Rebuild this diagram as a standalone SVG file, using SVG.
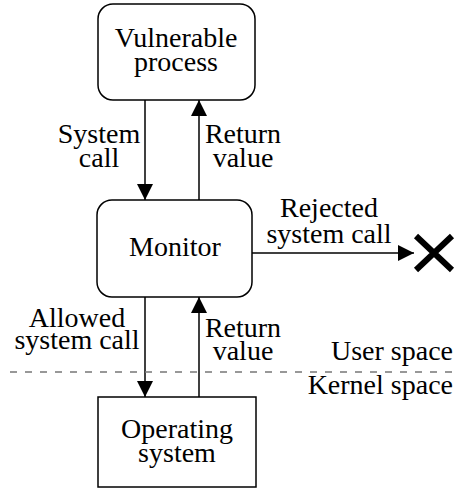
<svg xmlns="http://www.w3.org/2000/svg" width="457" height="488" viewBox="0 0 457 488">
<defs>
<marker id="ah" viewBox="0 0 16 16" markerWidth="16" markerHeight="16" refX="16" refY="8" orient="auto" markerUnits="userSpaceOnUse">
<path d="M0,0 L16,8 L0,16 Z" fill="#000"/>
</marker>
</defs>
<g id="connectors" stroke="#000" stroke-width="1.5" fill="none">
<line x1="145" y1="100" x2="145" y2="200" marker-end="url(#ah)"/>
<line x1="199" y1="200" x2="199" y2="100" marker-end="url(#ah)"/>
<line x1="145" y1="297" x2="145" y2="397" marker-end="url(#ah)"/>
<line x1="199" y1="397" x2="199" y2="297" marker-end="url(#ah)"/>
<line x1="252" y1="253" x2="414" y2="253" marker-end="url(#ah)"/>
</g>
<g id="labels">
<text x="99" y="143" text-anchor="middle" font-family="Times New Roman" font-size="28">System</text>
<text x="99" y="167" text-anchor="middle" font-family="Times New Roman" font-size="28">call</text>
<text x="243" y="143" text-anchor="middle" font-family="Times New Roman" font-size="28">Return</text>
<text x="243" y="167" text-anchor="middle" font-family="Times New Roman" font-size="28">value</text>
<text x="329" y="217" text-anchor="middle" font-family="Times New Roman" font-size="28">Rejected</text>
<text x="329" y="243" text-anchor="middle" font-family="Times New Roman" font-size="28">system call</text>
<text x="77" y="327" text-anchor="middle" font-family="Times New Roman" font-size="28">Allowed</text>
<text x="77" y="349" text-anchor="middle" font-family="Times New Roman" font-size="28">system call</text>
<text x="243" y="337" text-anchor="middle" font-family="Times New Roman" font-size="28">Return</text>
<text x="243" y="360" text-anchor="middle" font-family="Times New Roman" font-size="28">value</text>
</g>
<g id="boundary">
<line x1="10" y1="372" x2="457" y2="372" stroke="#777" stroke-width="1.5" stroke-dasharray="7,8"/>
<text x="453" y="360" text-anchor="end" font-family="Times New Roman" font-size="28">User space</text>
<text x="453" y="394" text-anchor="end" font-family="Times New Roman" font-size="28">Kernel space</text>
</g>
<g id="reject-x">
<path d="M416,236 L452,270 M452,236 L416,270" stroke="#000" stroke-width="6" fill="none"/>
</g>
<g id="vulnerable-process">
<rect x="98" y="4" width="157" height="96" rx="15" fill="#fff" stroke="#000" stroke-width="1.5"/>
<text x="176" y="47" text-anchor="middle" font-family="Times New Roman" font-size="28">Vulnerable</text>
<text x="176" y="71" text-anchor="middle" font-family="Times New Roman" font-size="28">process</text>
</g>
<g id="monitor">
<rect x="97" y="200" width="155" height="97" rx="15" fill="#fff" stroke="#000" stroke-width="1.5"/>
<text x="175" y="256" text-anchor="middle" font-family="Times New Roman" font-size="28">Monitor</text>
</g>
<g id="operating-system">
<rect x="98" y="397" width="158" height="90" fill="#fff" stroke="#000" stroke-width="1.5"/>
<text x="177" y="438" text-anchor="middle" font-family="Times New Roman" font-size="28">Operating</text>
<text x="177" y="462" text-anchor="middle" font-family="Times New Roman" font-size="28">system</text>
</g>
</svg>
